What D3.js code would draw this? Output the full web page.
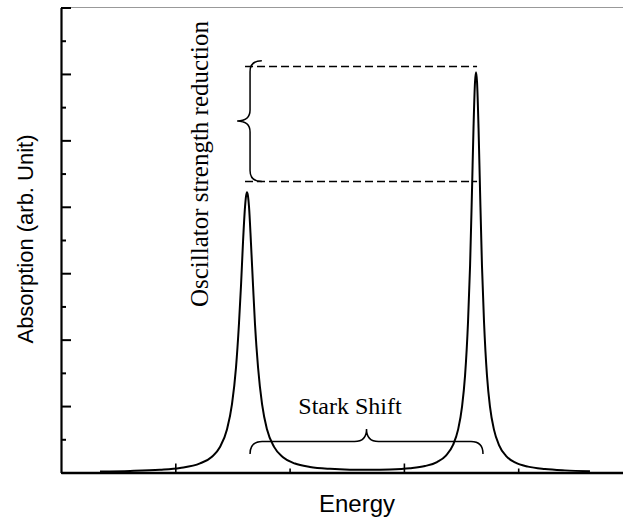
<!DOCTYPE html>
<html>
<head>
<meta charset="utf-8">
<script src="https://cdn.jsdelivr.net/npm/d3@7"></script>
<style>
  html, body { margin: 0; padding: 0; background: #fff; }
  svg { display: block; }
</style>
</head>
<body>
<svg id="chart" width="623" height="524"></svg>
<script>
// ---------------- data ----------------
const energy = [
  0.341, 0.604, 0.866, 1.041, 1.216, 1.321, 1.391, 1.452, 1.496, 1.531,
  1.557, 1.575, 1.592, 1.610, 1.619, 1.627, 1.636, 1.645, 1.662, 1.680,
  1.697, 1.724, 1.759, 1.802, 1.864, 1.942, 2.047, 2.178, 2.353, 2.528,
  2.703, 2.878, 3.053, 3.185, 3.290, 3.368, 3.430, 3.474, 3.509, 3.535,
  3.561, 3.579, 3.596, 3.609, 3.622, 3.631, 3.640, 3.653, 3.666, 3.683,
  3.701, 3.727, 3.753, 3.788, 3.832, 3.893, 3.972, 4.086, 4.234, 4.409,
  4.628
];
const absorption = [
  0.016, 0.024, 0.042, 0.069, 0.137, 0.238, 0.384, 0.649, 1.028, 1.579,
  2.239, 2.818, 3.455, 3.998, 4.161, 4.219, 4.162, 3.999, 3.455, 2.818,
  2.240, 1.581, 1.030, 0.650, 0.386, 0.229, 0.135, 0.084, 0.055, 0.043,
  0.041, 0.046, 0.064, 0.097, 0.157, 0.254, 0.415, 0.645, 0.994, 1.458,
  2.266, 3.116, 4.258, 5.186, 5.875, 6.027, 5.875, 5.186, 4.257, 3.115,
  2.265, 1.457, 0.993, 0.645, 0.413, 0.251, 0.153, 0.088, 0.052, 0.032,
  0.020
];
const xMajorTicks = [1, 3];
const xMinorTicks = [2, 4];
const yMajorTicks = [0, 1, 2, 3, 4, 5, 6, 7];
const yMinorTicks = [0.5, 1.5, 2.5, 3.5, 4.5, 5.5, 6.5];
const xTitle = "Energy";
const yTitle = "Absorption (arb. Unit)";
const oscLabel = "Oscillator strength reduction";
const starkLabel = "Stark Shift";

// annotation anchors in data units (energy, absorption)
const dashLevels = [6.11, 4.38];
const dashEnergy = [1.610, 3.640];
const oscBrace = { spineE: 1.654, endE: 1.757, tipE: 1.541, top: 6.20, bottom: 4.38 };
const starkBrace = { left: 1.654, right: 3.692, spine: 0.466, end: 0.280, tip: 0.655 };

// ---------------- layout ----------------
const W = 623, H = 524;
const plot = { left: 61, right: 632.5, top: 7.5, bottom: 472.5 };

const svg = d3.select("#chart");
const x = d3.scaleLinear().domain([0, 5]).range([plot.left, plot.right]);
const y = d3.scaleLinear().domain([0, 7]).range([plot.bottom, plot.top]);

// top frame line (thin, grey)
svg.append("line")
  .attr("x1", plot.left).attr("x2", W)
  .attr("y1", plot.top).attr("y2", plot.top)
  .attr("stroke", "#999").attr("stroke-width", 1);

// y axis: major + minor inward ticks
const yMajor = d3.axisLeft(y).tickValues(yMajorTicks).tickSizeInner(-10).tickSizeOuter(0).tickFormat("");
const yMinor = d3.axisLeft(y).tickValues(yMinorTicks).tickSizeInner(-5).tickSizeOuter(0).tickFormat("");
const gy = svg.append("g").attr("transform", `translate(${plot.left},0)`).call(yMajor);
const gy2 = svg.append("g").attr("transform", `translate(${plot.left},0)`).call(yMinor);
gy2.select(".domain").remove();
[gy, gy2].forEach(g => g.selectAll(".tick line").attr("stroke", "#000").attr("stroke-width", 2));
gy.select(".domain").attr("stroke", "#000").attr("stroke-width", 2.2);

// x axis: major + minor inward ticks
const xMajor = d3.axisBottom(x).tickValues(xMajorTicks).tickSizeInner(-9).tickSizeOuter(0).tickFormat("");
const xMinor = d3.axisBottom(x).tickValues(xMinorTicks).tickSizeInner(-4).tickSizeOuter(0).tickFormat("");
const gx = svg.append("g").attr("transform", `translate(0,${plot.bottom})`).call(xMajor);
const gx2 = svg.append("g").attr("transform", `translate(0,${plot.bottom})`).call(xMinor);
gx2.select(".domain").remove();
[gx, gx2].forEach(g => g.selectAll(".tick line").attr("stroke", "#000").attr("stroke-width", 1.6));
gx.select(".domain").attr("stroke", "#000").attr("stroke-width", 2.4);

// axis titles
svg.append("text")
  .attr("x", 357).attr("y", 512)
  .attr("text-anchor", "middle")
  .style("font-family", "'Liberation Sans', Arial, sans-serif")
  .style("font-size", "24px")
  .text(xTitle);
svg.append("text")
  .attr("transform", "translate(33,239) rotate(-90)")
  .attr("text-anchor", "middle")
  .style("font-family", "'Liberation Sans', Arial, sans-serif")
  .style("font-size", "22px")
  .text(yTitle);

// the spectrum
const pts = energy.map((e, i) => [e, absorption[i]]);
svg.append("path")
  .datum(pts)
  .attr("fill", "none")
  .attr("stroke", "#000")
  .attr("stroke-width", 2)
  .attr("d", d3.line().x(d => x(d[0])).y(d => y(d[1])).curve(d3.curveMonotoneX));

// dashed level lines
svg.selectAll(".dash").data(dashLevels).enter().append("line")
  .attr("x1", x(dashEnergy[0])).attr("x2", x(dashEnergy[1]))
  .attr("y1", d => y(d)).attr("y2", d => y(d))
  .attr("stroke", "#000").attr("stroke-width", 1.5)
  .attr("stroke-dasharray", "8,4");

// vertical brace (oscillator strength)
(function () {
  const xs = x(oscBrace.spineE), xe = x(oscBrace.endE), xt = x(oscBrace.tipE);
  const y1 = y(oscBrace.top), y2 = y(oscBrace.bottom), ym = (y1 + y2) / 2;
  const r = 11;
  const p = d3.path();
  p.moveTo(xe, y1);
  p.quadraticCurveTo(xs, y1, xs, y1 + r);
  p.lineTo(xs, ym - r);
  p.quadraticCurveTo(xs, ym, xt, ym);
  p.quadraticCurveTo(xs, ym, xs, ym + r);
  p.lineTo(xs, y2 - r);
  p.quadraticCurveTo(xs, y2, xe, y2);
  svg.append("path").attr("d", p.toString())
    .attr("fill", "none").attr("stroke", "#000").attr("stroke-width", 1.5);
})();

// horizontal brace (Stark shift)
(function () {
  const xl = x(starkBrace.left), xr = x(starkBrace.right), xm = (xl + xr) / 2;
  const ys = y(starkBrace.spine), ye = y(starkBrace.end), yt = y(starkBrace.tip);
  const r = 12;
  const p = d3.path();
  p.moveTo(xl, ye);
  p.quadraticCurveTo(xl, ys, xl + r, ys);
  p.lineTo(xm - r, ys);
  p.quadraticCurveTo(xm, ys, xm, yt);
  p.quadraticCurveTo(xm, ys, xm + r, ys);
  p.lineTo(xr - r, ys);
  p.quadraticCurveTo(xr, ys, xr, ye);
  svg.append("path").attr("d", p.toString())
    .attr("fill", "none").attr("stroke", "#000").attr("stroke-width", 1.5);
})();

// annotation labels
svg.append("text")
  .attr("transform", "translate(208,164) rotate(-90)")
  .attr("text-anchor", "middle")
  .style("font-family", "'Liberation Serif', 'Times New Roman', serif")
  .style("font-size", "25px")
  .text(oscLabel);
svg.append("text")
  .attr("x", 350).attr("y", 414)
  .attr("text-anchor", "middle")
  .style("font-family", "'Liberation Serif', 'Times New Roman', serif")
  .style("font-size", "24px")
  .text(starkLabel);
</script>
</body>
</html>
